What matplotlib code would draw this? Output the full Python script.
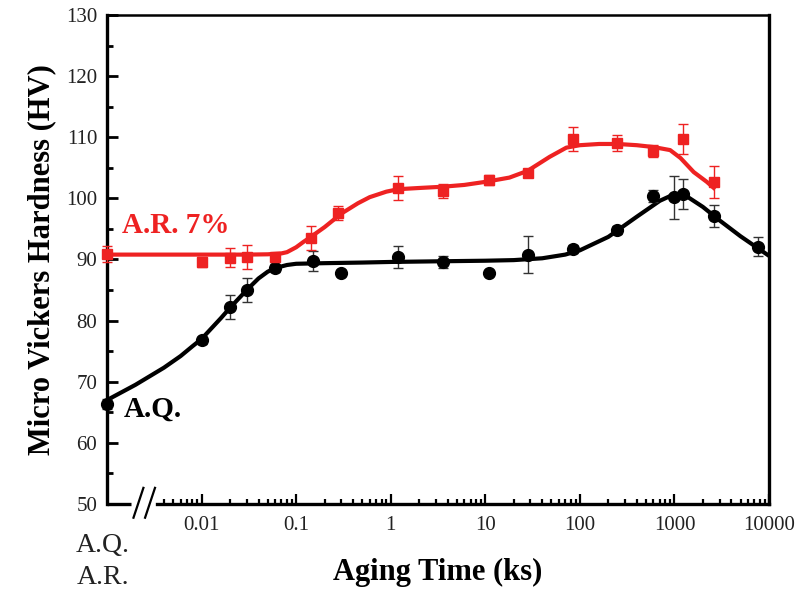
import matplotlib
matplotlib.use("Agg")

import numpy as np
import matplotlib.pyplot as plt
from matplotlib.ticker import FixedLocator, NullFormatter

plt.rcParams["font.family"] = ["Liberation Serif", "DejaVu Serif"]

# ---- data ----
x_min, x_max = 0.001, 10000   # left end of axis is the as-quenched / as-rolled state

# A.Q. (as quenched) measurements
aq_start = 66.3
aq_start_err = 0.8
aq_time = [0.01, 0.02, 0.03, 0.06, 0.15, 0.3, 1.2, 3.6, 11, 28, 84, 250, 590, 1000, 1220, 2600, 7600]
aq_hv = [76.8, 82.2, 85.0, 88.6, 89.8, 87.8, 90.4, 89.6, 87.8, 90.8, 91.7, 94.8, 100.4, 100.2, 100.7, 97.1, 92.1]
aq_err = [0.6, 2.0, 2.0, 0.6, 1.6, 0.5, 1.8, 1.0, 0.4, 3.0, 0.6, 0.6, 1.0, 3.5, 2.5, 1.8, 1.5]

# A.R. 7% (as rolled) measurements
ar_start = 90.9
ar_start_err = 1.3
ar_time = [0.01, 0.02, 0.03, 0.06, 0.145, 0.28, 1.2, 3.6, 11, 28, 84, 250, 600, 1220, 2600]
ar_hv = [89.6, 90.3, 90.4, 90.4, 93.5, 97.6, 101.7, 101.2, 103.0, 104.2, 109.7, 109.1, 107.8, 109.7, 102.7]
ar_err = [0.8, 1.5, 2.0, 0.5, 2.0, 1.1, 2.0, 1.2, 0.8, 0.5, 2.0, 1.3, 1.0, 2.5, 2.6]

# fitted guide curves (traced)
aq_fit_t = [0.001, 0.002, 0.004, 0.006, 0.008, 0.01, 0.013, 0.016, 0.02, 0.025, 0.03, 0.04, 0.05, 0.06,
            0.08, 0.1, 0.2, 0.5, 1, 3, 10, 20, 40, 70, 100, 200, 400, 700, 1000, 1300, 2000, 3000, 5000, 10000]
aq_fit_hv = [67.0, 69.5, 72.3, 74.2, 75.8, 77.0, 78.9, 80.4, 82.1, 83.7, 85.0, 86.9, 88.0, 88.6,
             89.1, 89.3, 89.4, 89.5, 89.6, 89.7, 89.8, 89.9, 90.2, 90.8, 91.5, 93.7, 97.0, 99.6, 100.7,
             100.5, 98.6, 96.4, 93.8, 90.6]

ar_fit_t = [0.001, 0.01, 0.03, 0.05, 0.07, 0.08, 0.1, 0.12, 0.14, 0.2, 0.3, 0.45, 0.6, 0.9, 1.2, 2,
            3.5, 6, 10, 18, 28, 48, 72, 100, 160, 250, 400, 600, 900, 1160, 1600, 2200, 2700]
ar_fit_hv = [90.8, 90.8, 90.8, 90.85, 91.0, 91.2, 92.0, 92.9, 93.6, 95.3, 97.5, 99.2, 100.2, 101.1, 101.5, 101.7,
             101.9, 102.2, 102.7, 103.4, 104.5, 106.8, 108.3, 108.7, 108.9, 108.9, 108.7, 108.4, 107.9, 106.6,
             104.3, 102.7, 101.5]

red = "#ee2222"

fig = plt.figure(figsize=(7.98, 5.94), dpi=100)
ax = fig.add_axes([107 / 798, 1 - 504 / 594, 662 / 798, 489 / 594])

# curves
ax.plot(aq_fit_t, aq_fit_hv, color="black", lw=3.0, zorder=3, clip_on=False, solid_capstyle="butt")
ax.plot(ar_fit_t, ar_fit_hv, color=red, lw=3.0, zorder=3, clip_on=False, solid_capstyle="butt")

# measurements
ax.errorbar(aq_time, aq_hv, yerr=aq_err, fmt="o", color="black", ms=8.5, ecolor="#333333",
            elinewidth=1.0, capsize=3.5, capthick=1.0, zorder=4)
ax.errorbar(ar_time, ar_hv, yerr=ar_err, fmt="s", color=red, ms=7.5, ecolor=red,
            elinewidth=1.0, capsize=3.5, capthick=1.0, zorder=4)
eb = ax.errorbar([x_min], [aq_start], yerr=[aq_start_err], fmt="o", color="black", ms=8.5,
                 ecolor="#333333", elinewidth=1.0, capsize=3.5, capthick=1.0, zorder=4)
for a in eb.lines[0:1] + eb.lines[1] + eb.lines[2]:
    a.set_clip_on(False)
eb = ax.errorbar([x_min], [ar_start], yerr=[ar_start_err], fmt="s", color=red, ms=7.5,
                 ecolor=red, elinewidth=1.0, capsize=3.5, capthick=1.0, zorder=4)
for a in eb.lines[0:1] + eb.lines[1] + eb.lines[2]:
    a.set_clip_on(False)

# axes
ax.set_xscale("log")
ax.set_xlim(x_min, x_max)
ax.set_ylim(50, 130)

ax.xaxis.set_major_locator(FixedLocator([0.01, 0.1, 1, 10, 100, 1000, 10000]))
ax.set_xticklabels(["0.01", "0.1", "1", "10", "100", "1000", "10000"])
minors = [k * 0.001 for k in range(4, 10)]
for n in range(-2, 4):
    minors += [k * 10.0 ** n for k in range(2, 10)]
ax.xaxis.set_minor_locator(FixedLocator(minors))
ax.xaxis.set_minor_formatter(NullFormatter())

ax.set_yticks(np.arange(50, 131, 10))
ax.set_yticks(np.arange(55, 130, 10), minor=True)

ax.tick_params(axis="both", which="both", direction="in", top=False, right=False,
               labelsize=15, colors="black", labelcolor="#222222")
ax.tick_params(axis="y", which="major", length=8, width=2.0, pad=7)
ax.tick_params(axis="y", which="minor", length=4.5, width=2.0)
ax.tick_params(axis="x", which="major", length=7, width=1.6, pad=9)
ax.tick_params(axis="x", which="minor", length=3.5, width=1.6)

for side in ["left", "bottom", "right"]:
    ax.spines[side].set_linewidth(2.4)
ax.spines["top"].set_linewidth(1.8)

# broken x axis near the origin
ax.spines["bottom"].set_bounds(0.0034, x_max)
ax.plot([x_min, 0.0018], [0, 0], transform=ax.get_xaxis_transform(), color="black",
        lw=2.4, clip_on=False, solid_capstyle="butt", zorder=5)
for dx in [0.0, 0.0175]:
    ax.plot([0.040 + dx, 0.055 + dx], [-0.028, 0.033], transform=ax.transAxes,
            color="black", lw=1.6, clip_on=False, zorder=5)

ax.set_ylabel("Micro Vickers Hardness (HV)", fontsize=22, fontweight="bold", labelpad=7)
ax.set_xlabel("Aging Time (ks)", fontsize=22, fontweight="bold")
ax.xaxis.set_label_coords(0.5, -0.141)
ax.xaxis.label.set_va("center")

ax.text(0.023, 0.554, "A.R. 7%", transform=ax.transAxes, color=red, fontsize=21,
        fontweight="bold", va="baseline", ha="left")
ax.text(0.025, 0.178, "A.Q.", transform=ax.transAxes, color="black", fontsize=21,
        fontweight="bold", va="baseline", ha="left")

fig.text(103 / 798, 1 - 545 / 594, "A.Q.", fontsize=20, ha="center", va="center", color="#222222")
fig.text(103 / 798, 1 - 578 / 594, "A.R.", fontsize=20, ha="center", va="center", color="#222222")

fig.savefig("out.png", dpi=100)
plt.close(fig)
